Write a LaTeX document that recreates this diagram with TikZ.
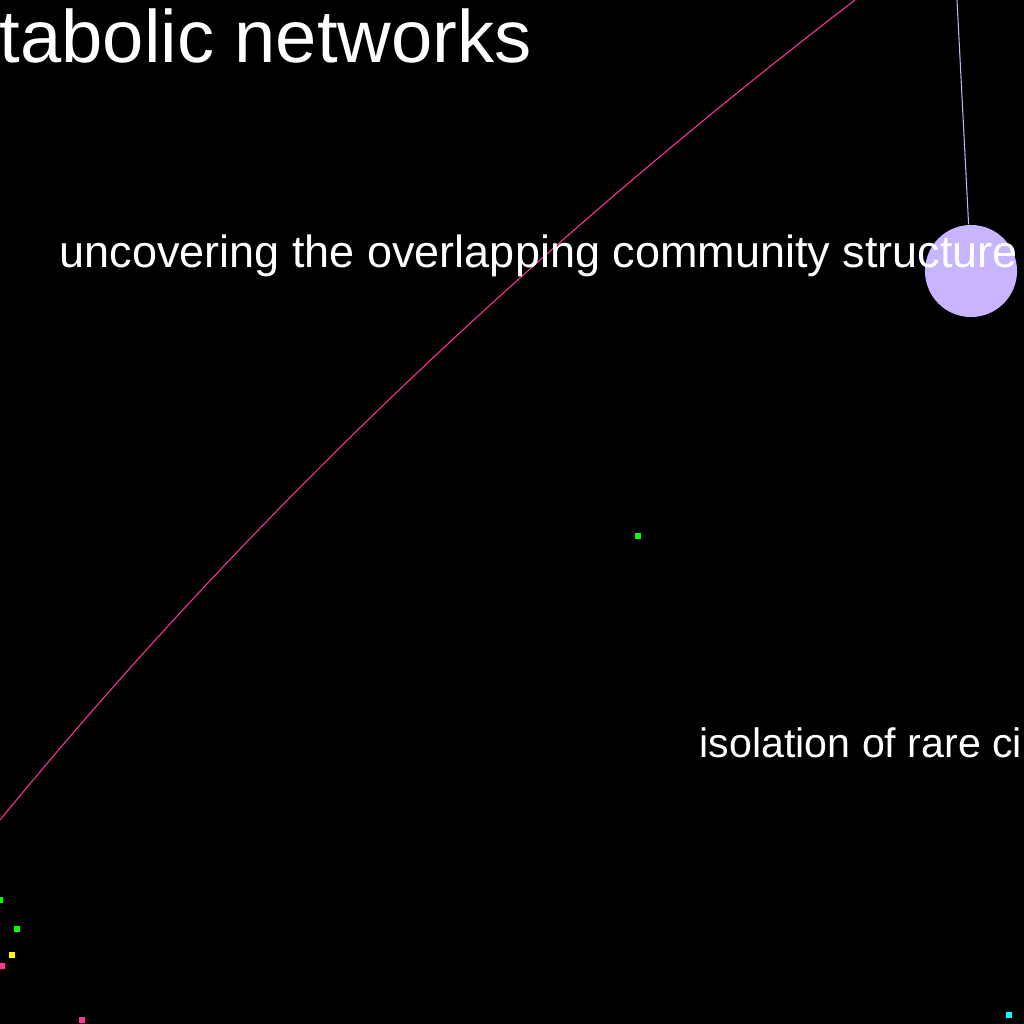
\documentclass[tikz,border=0pt]{standalone}
\usepackage{fontspec}
\setmainfont{Liberation Sans}
\usetikzlibrary{positioning}
\definecolor{bgC}{HTML}{000000}
\definecolor{hubF}{HTML}{C8B4FF}
\definecolor{linkP}{HTML}{FF3399}
\definecolor{linkL}{HTML}{C2B2FA}
\definecolor{dotG}{HTML}{00FF00}
\definecolor{dotY}{HTML}{FFFF00}
\definecolor{dotP}{HTML}{FF3399}
\definecolor{dotC}{HTML}{00FFFF}
\tikzset{
  hub/.style={circle, fill=hubF, inner sep=0pt, minimum size=0.92cm},
  dot/.style={rectangle, inner sep=0pt, minimum size=1.6pt},
  link/.style={line width=0.3pt},
  lab/.style={anchor=base west, inner sep=0pt, text=white},
}

\begin{document}
\begin{tikzpicture}[x=0.01cm, y=-0.01cm]
\fill[bgC] (0,0) rectangle (1024,1024);
\useasboundingbox (0,0) rectangle (1024,1024);
% nodes
\node[hub] (hub) at (971,271) {};
\node[dot, fill=dotG] (g1) at (638,536) {};
\node[dot, fill=dotG] (g2) at (0,900) {};
\node[dot, fill=dotG] (g3) at (17,929) {};
\node[dot, fill=dotY] (y1) at (12,955) {};
\node[dot, fill=dotP] (p1) at (2,966) {};
\node[dot, fill=dotP] (p2) at (82,1020) {};
\node[dot, fill=dotC] (c1) at (1009,1015) {};
% free ends of the edges
\coordinate (arcA) at (0,820);
\coordinate (arcB) at (855,0);
\coordinate (hubTop) at (957,0);
% edges
\draw[link, linkP] (arcA) .. controls (258,505) and (548,236) .. (arcB);
\draw[link, linkL] (hubTop) -- (hub);
% labels
\node[lab, font=\fontsize{21.1}{25}\selectfont] (ttl) at (-1,62) {tabolic networks};
\node[lab, font=\fontsize{12.8}{15}\selectfont] (lab1) at (59,267) {uncovering the overlapping community structure};
\node[lab, font=\fontsize{11.7}{14}\selectfont] (lab2) at (699,757) {isolation of rare ci};
\end{tikzpicture}
\end{document}
